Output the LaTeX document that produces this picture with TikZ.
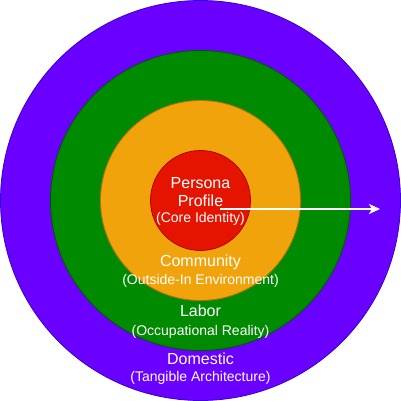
\documentclass[tikz,border=0pt]{standalone}
\usepackage{fontspec}
\setmainfont{Liberation Sans}
\usetikzlibrary{arrows.meta}
\definecolor{cpurple}{HTML}{6A00FF}
\definecolor{cpurpled}{HTML}{3700CC}
\definecolor{cgreen}{HTML}{008A00}
\definecolor{cgreend}{HTML}{005700}
\definecolor{corange}{HTML}{F0A30A}
\definecolor{coranged}{HTML}{BD7000}
\definecolor{cred}{HTML}{E51400}
\definecolor{credd}{HTML}{B20000}
\begin{document}
\begin{tikzpicture}[x=1pt,y=-1pt,
  ring/.style={circle,inner sep=0pt,line width=0.8pt},
  big/.style={text=white,anchor=base,inner sep=0pt,font=\fontsize{16}{19}\selectfont},
  small/.style={text=white,anchor=base,inner sep=0pt,font=\fontsize{14}{17}\selectfont}]
\useasboundingbox (0,0) rectangle (401,401);
\node[ring,fill=cpurple,draw=cpurpled,minimum size=400pt] (domestic) at (200.5,200.5) {};
\node[ring,fill=cgreen,draw=cgreend,minimum size=300pt] (labor) at (200.5,200.5) {};
\node[ring,fill=corange,draw=coranged,minimum size=200pt] (community) at (200.5,200.5) {};
\node[ring,fill=cred,draw=credd,minimum size=100pt] (core) at (200.5,200.5) {};
\node[big] (t1) at (200.5,188.3) {Persona};
\node[big] (t2) at (200.5,206.7) {Profile};
\node[small] (t3) at (200.5,222.7) {(Core Identity)};
\node[big] (t4) at (200.5,266.7) {Community};
\node[small] (t5) at (200.5,284.3) {(Outside-In Environment)};
\node[big] (t6) at (200.5,316.7) {Labor};
\node[small] (t7) at (200.5,335) {(Occupational Reality)};
\node[big] (t8) at (200.5,364.3) {Domestic};
\node[small] (t9) at (200.5,381.7) {(Tangible Architecture)};
\coordinate (as) at (220,209);
\coordinate (ae) at (380,209);
\draw[white,line width=2pt,-{Stealth[length=11pt,width=10pt,inset=3pt]}] (as) -- (ae);
\end{tikzpicture}
\end{document}
